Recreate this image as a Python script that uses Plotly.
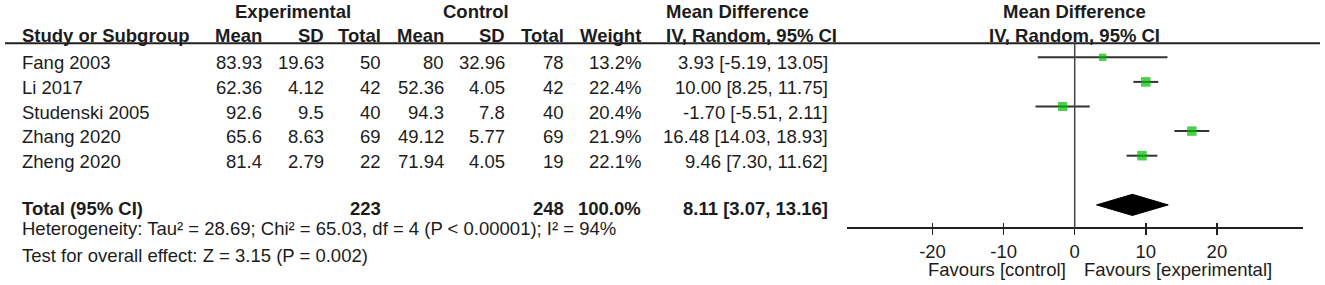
import plotly.graph_objects as go

# ---------------- data ----------------
studies = ["Fang 2003", "Li 2017", "Studenski 2005", "Zhang 2020", "Zheng 2020"]
exp_mean = [83.93, 62.36, 92.6, 65.6, 81.4]
exp_sd = [19.63, 4.12, 9.5, 8.63, 2.79]
exp_n = [50, 42, 40, 69, 22]
ctrl_mean = [80, 52.36, 94.3, 49.12, 71.94]
ctrl_sd = [32.96, 4.05, 7.8, 5.77, 4.05]
ctrl_n = [78, 42, 40, 69, 19]
weight = [13.2, 22.4, 20.4, 21.9, 22.1]
md = [3.93, 10.00, -1.70, 16.48, 9.46]
ci_lo = [-5.19, 8.25, -5.51, 14.03, 7.30]
ci_hi = [13.05, 11.75, 2.11, 18.93, 11.62]

total_label = "Total (95% CI)"
total_exp_n = 223
total_ctrl_n = 248
total_weight = 100.0
total_md = 8.11
total_lo = 3.07
total_hi = 13.16

heterogeneity = "Heterogeneity: Tau² = 28.69; Chi² = 65.03, df = 4 (P < 0.00001); I² = 94%"
overall = "Test for overall effect: Z = 3.15 (P = 0.002)"

tick_vals = [-20, -10, 0, 10, 20]
favour_left = "Favours [control]"
favour_right = "Favours [experimental]"

# ---------------- layout constants ----------------
OFF = 0                            # body margin removed via post_script
W, H = 1325 - OFF, 285 - OFF
FONT = "Liberation Sans, Arial, sans-serif"
FS = 18.5
TXT = "#1c1c1c"
GREEN = "#00BE00"
ROW0, ROWH = 57.3, 24.6          # reference pixel y of first study row, row spacing


def row_of(px):
    return (px - ROW0) / ROWH


def px_x(px):
    return (px - OFF) / W


TEXT_SHIFT = -5.5                 # table text sits a bit lower than markers
total_row = 6

fig = go.Figure()

# CI lines + weight squares
sizes = [9.6 * (w / 22.4) ** 0.5 for w in weight]
fig.add_trace(go.Scatter(
    x=md, y=list(range(len(studies))), mode="markers",
    marker=dict(symbol="square", size=sizes, color=GREEN, line=dict(width=0)),
    error_x=dict(type="data", symmetric=False,
                 array=[h - m for h, m in zip(ci_hi, md)],
                 arrayminus=[m - l for m, l in zip(md, ci_lo)],
                 width=0, thickness=2, color="#333333"),
    hoverinfo="skip", showlegend=False, cliponaxis=False,
))

# pooled diamond
dh = 0.43
fig.add_trace(go.Scatter(
    x=[total_lo, total_md, total_hi, total_md, total_lo],
    y=[total_row, total_row - dh, total_row, total_row + dh, total_row],
    mode="lines", fill="toself", fillcolor="#000000",
    line=dict(color="#000000", width=1), hoverinfo="skip", showlegend=False,
))

shapes = []
# header rule
shapes.append(dict(type="line", xref="paper", yref="y", x0=px_x(5), x1=px_x(1320),
                   y0=row_of(43.3), y1=row_of(43.3), line=dict(color="#222", width=2)))
# no-effect line
shapes.append(dict(type="line", xref="x", yref="y", x0=0, x1=0,
                   y0=row_of(43.3), y1=row_of(228.3), line=dict(color="#444", width=1.5)))

ann = []


def add(text, xpx, row, anchor="right", bold=False, shift=TEXT_SHIFT, xref="paper"):
    ann.append(dict(
        text=f"<b>{text}</b>" if bold else text,
        x=px_x(xpx) if xref == "paper" else xpx, xref=xref,
        y=row, yref="y", yshift=shift,
        xanchor=anchor, yanchor="middle", showarrow=False, borderpad=0,
        font=dict(family=FONT, size=FS, color=TXT),
    ))


col_right = [263.3, 325, 381.7, 445, 505.7, 565, 641.7, 829.3]

# headers
hdr1 = row_of(11.5)
hdr2 = row_of(35.5)
add("Experimental", 292.5, hdr1, anchor="center", bold=True, shift=0)
add("Control", 476, hdr1, anchor="center", bold=True, shift=0)
add("Mean Difference", 665, hdr1, anchor="left", bold=True, shift=0)
add("Mean Difference", 0, hdr1, anchor="center", bold=True, shift=0, xref="x")
add("Study or Subgroup", 20.5, hdr2, anchor="left", bold=True, shift=0)
for txt, xr in zip(["Mean", "SD", "Total", "Mean", "SD", "Total", "Weight"], col_right):
    add(txt, xr, hdr2, bold=True, shift=0)
add("IV, Random, 95% CI", 665, hdr2, anchor="left", bold=True, shift=0)
add("IV, Random, 95% CI", 0, hdr2, anchor="center", bold=True, shift=0, xref="x")

# study rows
for i, s in enumerate(studies):
    add(s, 20.5, i, anchor="left")
    cells = [f"{exp_mean[i]:g}", f"{exp_sd[i]:g}", f"{exp_n[i]}",
             f"{ctrl_mean[i]:g}", f"{ctrl_sd[i]:g}", f"{ctrl_n[i]}",
             f"{weight[i]:.1f}%",
             f"{md[i]:.2f} [{ci_lo[i]:.2f}, {ci_hi[i]:.2f}]"]
    for c, xr in zip(cells, col_right):
        add(c, xr, i)

# total row
TS = -4
add(total_label, 20.5, total_row, anchor="left", bold=True, shift=TS)
add(f"{total_exp_n}", col_right[2], total_row, bold=True, shift=TS)
add(f"{total_ctrl_n}", col_right[5], total_row, bold=True, shift=TS)
add(f"{total_weight:.1f}%", col_right[6], total_row, bold=True, shift=TS)
add(f"{total_md:.2f} [{total_lo:.2f}, {total_hi:.2f}]", col_right[7], total_row, bold=True, shift=TS)

add(heterogeneity, 20.5, row_of(228.5), anchor="left", shift=0)
add(overall, 20.5, row_of(255.5), anchor="left", shift=0)

# favours labels
fav_row = row_of(269.5)
ann.append(dict(text=favour_left, x=0, xref="x", y=fav_row, yref="y", xanchor="right",
                xshift=-8, yanchor="middle", showarrow=False, borderpad=0,
                font=dict(family=FONT, size=FS, color=TXT)))
ann.append(dict(text=favour_right, x=0, xref="x", y=fav_row, yref="y", xanchor="left",
                xshift=8, yanchor="middle", showarrow=False, borderpad=0,
                font=dict(family=FONT, size=FS, color=TXT)))

xr_range = [(846.7 - 1074.7) / 7.11, (1302.7 - 1074.7) / 7.11]
axis_pos = 1 - (228.3 - OFF) / H
xdom = [px_x(846.7), px_x(1302.7)]

fig.update_layout(
    width=W, height=H, margin=dict(l=0, r=0, t=0, b=0),
    paper_bgcolor="white", plot_bgcolor="rgba(0,0,0,0)",
    shapes=shapes, annotations=ann,
    xaxis=dict(domain=xdom, range=xr_range, anchor="free",
               position=axis_pos, showline=True, linecolor="#222", linewidth=2,
               ticks="outside", ticklen=6, tickwidth=1.5, tickcolor="#222",
               ticklabelstandoff=0,
               tickvals=tick_vals, ticktext=[str(t) for t in tick_vals],
               tickfont=dict(family=FONT, size=FS, color=TXT),
               showgrid=False, zeroline=False, fixedrange=True),
    xaxis2=dict(domain=xdom, range=xr_range, anchor="free",
                position=axis_pos, overlaying="x", showline=False,
                ticks="inside", ticklen=5, tickwidth=1.5, tickcolor="#222",
                tickvals=tick_vals, showticklabels=False, showgrid=False, zeroline=False),
    yaxis=dict(domain=[0, 1], range=[row_of(285), row_of(OFF)], visible=False, fixedrange=True),
)
# dummy trace so that xaxis2 is drawn
fig.add_trace(go.Scatter(x=[None], y=[None], xaxis="x2", showlegend=False, hoverinfo="skip"))

fig.write_html(
    "out.html",
    config={"displayModeBar": False, "staticPlot": True},
    post_script="document.body.style.margin='0';document.body.style.overflow='hidden';",
)
